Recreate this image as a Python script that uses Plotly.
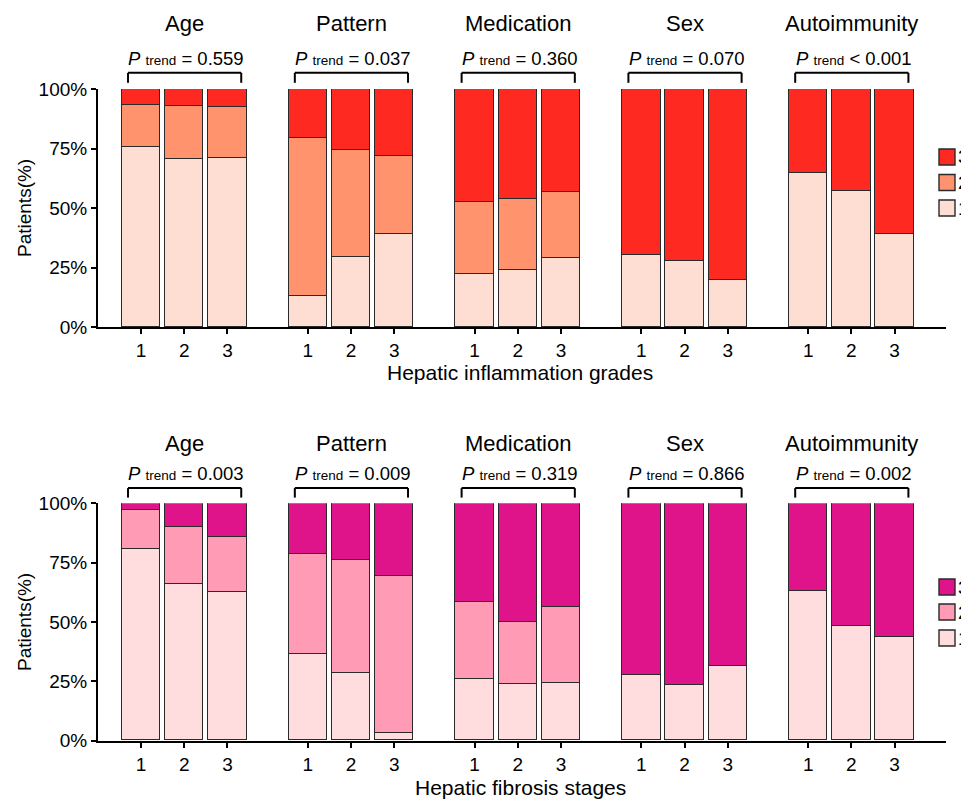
import plotly.graph_objects as go

# ---------------- data ----------------
groups = ["Age", "Pattern", "Medication", "Sex", "Autoimmunity"]
bar_labels = ["1", "2", "3"]
legend_labels = ["3", "2", "1"]

# Hepatic inflammation grades (% of patients), 3 bars per group
infl_g1 = [75.5, 70.7, 70.9, 13.2, 29.3, 38.9, 22.2, 24.0, 29.1, 30.1, 27.9, 19.8, 64.5, 57.2, 39.2]
infl_g2 = [17.9, 22.0, 21.7, 66.4, 45.1, 32.9, 30.3, 29.9, 27.5, None, None, None, None, None, None]
infl_g3 = [6.6, 7.3, 7.4, 20.4, 25.6, 28.2, 47.5, 46.1, 43.4, 69.9, 72.1, 80.2, 35.5, 42.8, 60.8]
infl_p = ["= 0.559", "= 0.037", "= 0.360", "= 0.070", "&lt; 0.001"]

# Hepatic fibrosis stages (% of patients)
fib_g1 = [80.6, 65.9, 62.5, 36.6, 28.4, 3.1, 25.8, 23.8, 24.1, 27.6, 23.5, 31.3, 63.0, 48.2, 43.5]
fib_g2 = [16.3, 24.2, 23.2, 41.8, 47.7, 66.0, 32.7, 26.1, 32.0, None, None, None, None, None, None]
fib_g3 = [3.1, 9.9, 14.3, 21.6, 23.9, 30.9, 41.5, 50.1, 43.9, 72.4, 76.5, 68.7, 37.0, 51.8, 56.5]
fib_p = ["= 0.003", "= 0.009", "= 0.319", "= 0.866", "= 0.002"]

y_ticks = [0, 25, 50, 75, 100]
y_ticktext = ["0%", "25%", "50%", "75%", "100%"]

# ---------------- styling ----------------
FONT = "Arial, 'Liberation Sans', Helvetica, sans-serif"
OFF = 8                      # page body margin offset
W, H = 969 - OFF, 801 - OFF  # figure size so that the page fills the 969x801 window


def xp(px):
    return (px - OFF) / W


def yp(py):
    return 1 - (py - OFF) / H


GROUP_STEP = 3.86
BAR_W = 0.89
x_pos = [g * GROUP_STEP + k for g in range(len(groups)) for k in range(len(bar_labels))]
x_text = [bar_labels[k] for g in range(len(groups)) for k in range(len(bar_labels))]

infl_colors = ["#FEDDD3", "#FF936E", "#FE2A22"]
fib_colors = ["#FFDCDD", "#FF9BB4", "#E0148A"]
OUTLINE = "#2a2a2a"

panels = [
    dict(xa="x", ya="y", g=[infl_g1, infl_g2, infl_g3], colors=infl_colors, p=infl_p,
         title="Hepatic inflammation grades", top=89, bottom=327,
         title_y=372, head_y=1.274, p_y=1.128, br_top=1.068, br_bot=1.026,
         legend_y=[157, 182.5, 208]),
    dict(xa="x2", ya="y2", g=[fib_g1, fib_g2, fib_g3], colors=fib_colors, p=fib_p,
         title="Hepatic fibrosis stages", top=503.3, bottom=740.7,
         title_y=787, head_y=1.251, p_y=1.125, br_top=1.064, br_bot=1.024,
         legend_y=[587, 612, 638]),
]

fig = go.Figure()
shapes = []
annotations = []

for pi, pn in enumerate(panels):
    for gi in range(3):
        fig.add_trace(go.Bar(
            x=x_pos, y=pn["g"][gi], width=BAR_W, xaxis=pn["xa"], yaxis=pn["ya"],
            marker=dict(color=pn["colors"][gi], line=dict(color=OUTLINE, width=1.4)),
            showlegend=False, name=bar_labels[gi], hoverinfo="skip"))

    ydom = pn["ya"] + " domain"
    for g, name in enumerate(groups):
        c = g * GROUP_STEP + 1
        annotations.append(dict(x=c, y=pn["head_y"], xref=pn["xa"], yref=ydom, text=name,
                                showarrow=False, font=dict(size=22, color="black", family=FONT),
                                xanchor="center", yanchor="middle"))
        annotations.append(dict(x=c + 0.05, y=pn["p_y"], xref=pn["xa"], yref=ydom,
                                text="<i>P</i> <span style='font-size:13.5px'>trend</span> " + pn["p"][g],
                                showarrow=False, font=dict(size=18.5, color="black", family=FONT),
                                xanchor="center", yanchor="middle"))
        xl, xr = c - 1 - 0.3, c + 1 + 0.32
        for (x0, y0, x1, y1) in [(xl, pn["br_top"], xr, pn["br_top"]),
                                 (xl, pn["br_top"], xl, pn["br_bot"]),
                                 (xr, pn["br_top"], xr, pn["br_bot"])]:
            shapes.append(dict(type="line", xref=pn["xa"], yref=ydom, x0=x0, y0=y0, x1=x1, y1=y1,
                               line=dict(color="black", width=2)))

    # axis titles
    annotations.append(dict(x=xp(520), y=yp(pn["title_y"]), xref="paper", yref="paper",
                            text=pn["title"], showarrow=False,
                            font=dict(size=21, color="black", family=FONT),
                            xanchor="center", yanchor="middle"))
    annotations.append(dict(x=xp(24), y=0.5, xref="paper", yref=ydom, text="Patients(%)",
                            textangle=-90, showarrow=False,
                            font=dict(size=19, color="black", family=FONT),
                            xanchor="center", yanchor="middle"))

    # legend (manual, clipped by right page edge as in the reference)
    for li, lab in enumerate(legend_labels):
        cy = pn["legend_y"][li]
        col = pn["colors"][2 - li]
        shapes.append(dict(type="rect", xref="paper", yref="paper",
                           x0=xp(939), x1=xp(955), y0=yp(cy + 8), y1=yp(cy - 8),
                           fillcolor=col, line=dict(color=OUTLINE, width=1.4)))
        annotations.append(dict(x=xp(958), y=yp(cy), xref="paper", yref="paper", text=lab,
                                showarrow=False, borderpad=0, borderwidth=0,
                                font=dict(size=19, color="black", family=FONT),
                                xanchor="left", yanchor="middle"))

xr_range = [-0.995, 4 * GROUP_STEP + 2 + 1.19]
xdom = [xp(98), xp(946)]


def xaxis(anchor):
    return dict(domain=xdom, range=xr_range, anchor=anchor, tickvals=x_pos, ticktext=x_text,
                ticks="outside", ticklen=5, tickwidth=2, tickcolor="black",
                showline=True, linewidth=2, linecolor="black", showgrid=False, zeroline=False,
                tickfont=dict(size=19, color="black", family=FONT), fixedrange=True)


def yaxis(anchor, top, bottom):
    return dict(domain=[yp(bottom), yp(top)], range=[0, 100], anchor=anchor,
                tickvals=y_ticks, ticktext=y_ticktext,
                ticks="outside", ticklen=5, tickwidth=2, tickcolor="black",
                showline=True, linewidth=2, linecolor="black", showgrid=False, zeroline=False,
                tickfont=dict(size=19, color="black", family=FONT), fixedrange=True)


fig.update_layout(
    width=W, height=H,
    margin=dict(l=0, r=0, t=0, b=0, autoexpand=False),
    paper_bgcolor="white", plot_bgcolor="white",
    barmode="stack", bargap=0,
    showlegend=False,
    font=dict(family=FONT, color="black"),
    xaxis=xaxis("y"),
    yaxis=yaxis("x", panels[0]["top"], panels[0]["bottom"]),
    xaxis2=xaxis("y2"),
    yaxis2=yaxis("x2", panels[1]["top"], panels[1]["bottom"]),
    shapes=shapes,
    annotations=annotations,
)

fig.write_html("out.html")
